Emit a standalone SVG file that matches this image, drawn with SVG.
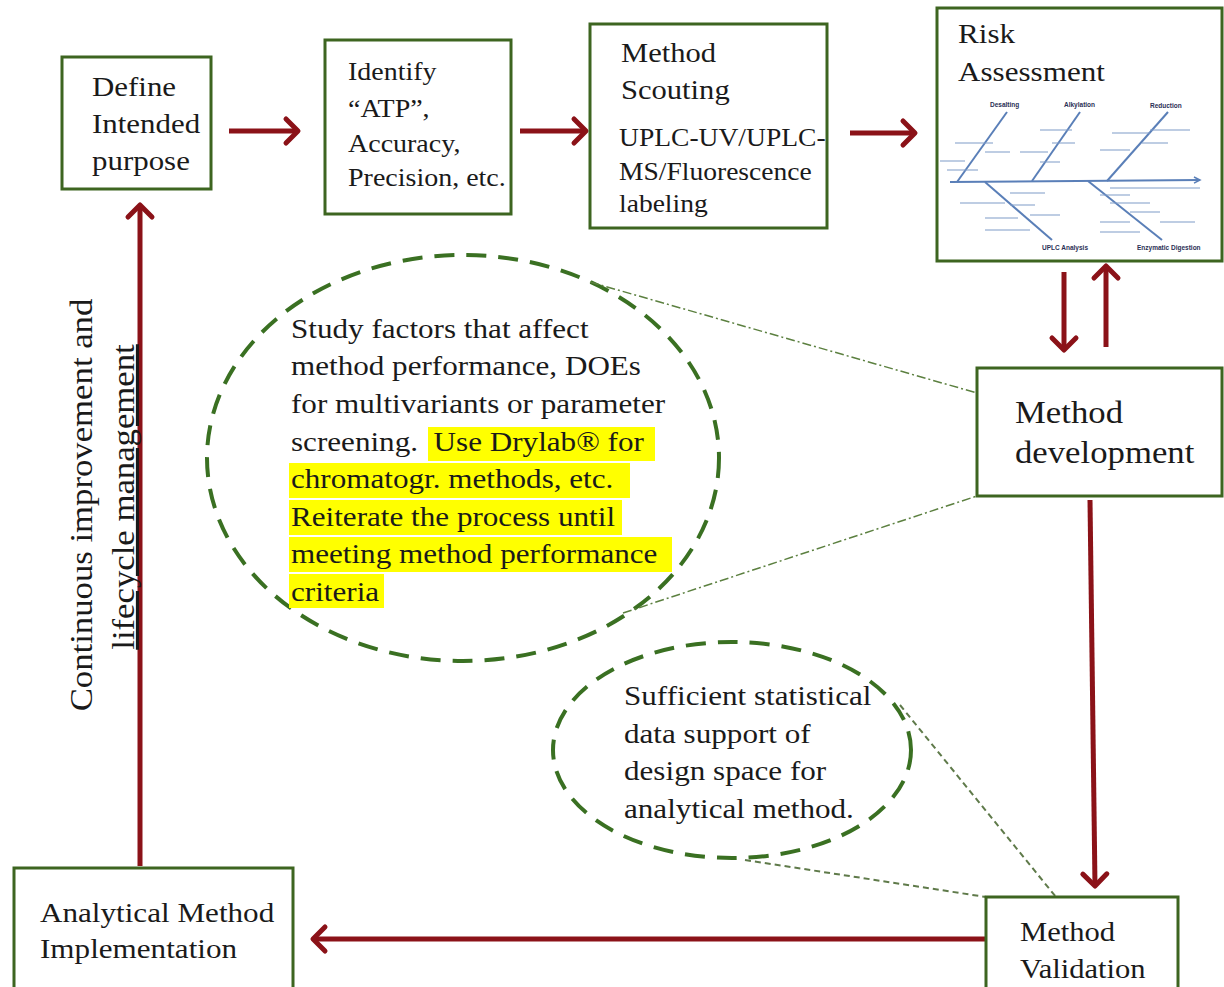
<svg xmlns="http://www.w3.org/2000/svg" width="1224" height="987" viewBox="0 0 1224 987">
<style>
.box{fill:#fff;stroke:#3d6520;stroke-width:3}
.t{font-family:"Liberation Serif","Times New Roman",serif;fill:#1a1a1a}
.arr{stroke:#8b1218;stroke-width:5;fill:none;stroke-linecap:butt;marker-end:url(#ah)}
.ell{fill:none;stroke:#3a7022;stroke-width:4;stroke-dasharray:20 12}
.call{fill:none;stroke:#5c8040;stroke-width:1.5;stroke-dasharray:9 3 2 3}
.call2{fill:none;stroke:#5f7a4a;stroke-width:2;stroke-dasharray:6 4}
.fb{stroke:#5a7fb8;stroke-width:2;fill:none}
.fs{stroke:#7f9bc8;stroke-width:1.2;fill:none}
.fh{font-family:"Liberation Sans",Arial,sans-serif;font-weight:bold;font-size:6.5px;fill:#2a2f55}
.hl{fill:#ffff00}
</style>
<defs>
<marker id="ah" viewBox="-16 -16 20 32" markerWidth="20" markerHeight="32" refX="0" refY="0" orient="auto" markerUnits="userSpaceOnUse">
<path d="M-12,-12 L0,0 L-12,12" fill="none" stroke="#8b1218" stroke-width="5" stroke-linecap="round" stroke-linejoin="round"/>
</marker>
<marker id="fah" viewBox="-8 -5 10 10" markerWidth="10" markerHeight="10" refX="0" refY="0" orient="auto" markerUnits="userSpaceOnUse">
<path d="M-6,-3 L0,0 L-6,3" fill="none" stroke="#5a7fb8" stroke-width="1.5"/>
</marker>
</defs>
<rect width="1224" height="987" fill="#fff"/>

<g id="callouts">
<ellipse class="ell" cx="463" cy="458" rx="256" ry="203"/>
<ellipse class="ell" cx="732" cy="750" rx="179" ry="108"/>
<path class="call" d="M590,282 L977,393"/>
<path class="call" d="M623,613 L977,496"/>
<path class="call2" d="M900,705 L1056,897"/>
<path class="call2" d="M745,860 L986,897"/>
</g>

<g id="connectors">
<path class="arr" d="M229,131 L298,131"/>
<path class="arr" d="M520,131 L586,131"/>
<path class="arr" d="M850,133 L915,133"/>
<path class="arr" d="M1064,272 L1064,350"/>
<path class="arr" d="M1106,347 L1106,266"/>
<path class="arr" d="M1090,500 L1095,886"/>
<path class="arr" d="M985,939 L313,939"/>
<path class="arr" d="M140,866 L140,205"/>
</g>

<g id="define">
<rect class="box" x="62" y="57" width="149" height="132"/>
<text class="t" font-size="27.6" transform="translate(92,0) scale(1.12,1)"><tspan x="0" y="96">Define</tspan><tspan x="0" y="133">Intended</tspan><tspan x="0" y="170">purpose</tspan></text>
</g>

<g id="identify">
<rect class="box" x="325" y="40" width="186" height="174"/>
<text class="t" font-size="25" transform="translate(348,0) scale(1.12,1)"><tspan x="0" y="80">Identify</tspan><tspan x="0" y="117">“ATP”,</tspan><tspan x="0" y="152">Accuracy,</tspan><tspan x="0" y="186">Precision, etc.</tspan></text>
</g>

<g id="scouting">
<rect class="box" x="590" y="24" width="237" height="204"/>
<text class="t" font-size="27.3" transform="translate(621,0) scale(1.12,1)"><tspan x="0" y="62">Method</tspan><tspan x="0" y="99">Scouting</tspan></text>
<text class="t" font-size="24.6" transform="translate(619,0) scale(1.12,1)"><tspan x="0" y="146">UPLC-UV/UPLC-</tspan><tspan x="0" y="180">MS/Fluorescence</tspan><tspan x="0" y="212">labeling</tspan></text>
</g>

<g id="risk">
<rect class="box" x="937" y="8" width="285" height="253"/>
<text class="t" font-size="27.8" transform="translate(958,0) scale(1.12,1)"><tspan x="0" y="43">Risk</tspan><tspan x="0" y="81">Assessment</tspan></text>
<g id="fishbone">
<path class="fb" d="M950,182 L1200,180" marker-end="url(#fah)"/>
<path class="fb" d="M957,182 L1007,112"/>
<path class="fb" d="M1032,181 L1080,112"/>
<path class="fb" d="M1107,181 L1168,112"/>
<path class="fb" d="M985,182 L1052,240"/>
<path class="fb" d="M1088,181 L1162,240"/>
<path class="fs" d="M947,170 L978,170 M955,143 L993,143 M985,152 L1010,152 M940,161 L965,161"/>
<path class="fs" d="M1040,130 L1072,130 M1052,143 L1075,143 M1040,162 L1060,162 M1020,152 L1048,152"/>
<path class="fs" d="M1112,133 L1150,133 M1150,130 L1190,130 M1142,143 L1168,143 M1100,150 L1130,150"/>
<path class="fs" d="M1010,193 L1045,193 M960,203 L1005,203 M1010,205 L1035,205 M985,218 L1018,218 M985,230 L1030,230 M1030,215 L1060,215"/>
<path class="fs" d="M1100,195 L1130,195 M1110,203 L1150,203 M1130,212 L1160,212 M1100,222 L1130,222 M1160,222 L1195,222 M1100,232 L1140,232 M1110,188 L1200,188"/>
<text class="fh" x="990" y="107">Desalting</text>
<text class="fh" x="1064" y="107">Alkylation</text>
<text class="fh" x="1150" y="108">Reduction</text>
<text class="fh" x="1042" y="250">UPLC Analysis</text>
<text class="fh" x="1137" y="250">Enzymatic Digestion</text>
</g>
</g>

<g id="development">
<rect class="box" x="977" y="368" width="245" height="128"/>
<text class="t" font-size="31" transform="translate(1015,0) scale(1.12,1)"><tspan x="0" y="423">Method</tspan><tspan x="0" y="463">development</tspan></text>
</g>

<g id="validation">
<rect class="box" x="986" y="897" width="192" height="100"/>
<text class="t" font-size="27.3" transform="translate(1020,0) scale(1.12,1)"><tspan x="0" y="941">Method</tspan><tspan x="0" y="978">Validation</tspan></text>
</g>

<g id="implementation">
<rect class="box" x="14" y="868" width="279" height="130"/>
<text class="t" font-size="27.8" transform="translate(40,0) scale(1.12,1)"><tspan x="0" y="922">Analytical Method</tspan><tspan x="0" y="958">Implementation</tspan></text>
</g>

<g id="study-note">
<rect class="hl" x="428" y="427" width="227" height="34"/>
<rect class="hl" x="289" y="463" width="341" height="35"/>
<rect class="hl" x="289" y="500" width="333" height="35"/>
<rect class="hl" x="289" y="537" width="383" height="35"/>
<rect class="hl" x="289" y="574" width="95" height="34"/>
<text class="t" font-size="27.8" transform="translate(291,0) scale(1.12,1)"><tspan x="0" y="338">Study factors that affect</tspan><tspan x="0" y="375">method performance, DOEs</tspan><tspan x="0" y="413">for multivariants or parameter</tspan><tspan x="0" y="451">screening. &#160;Use Drylab® for</tspan><tspan x="0" y="488">chromatogr. methods, etc.</tspan><tspan x="0" y="526">Reiterate the process until</tspan><tspan x="0" y="563">meeting method performance</tspan><tspan x="0" y="601">criteria</tspan></text>
</g>

<g id="stat-note">
<text class="t" font-size="27.8" transform="translate(624,0) scale(1.12,1)"><tspan x="0" y="705">Sufficient statistical</tspan><tspan x="0" y="743">data support of</tspan><tspan x="0" y="780">design space for</tspan><tspan x="0" y="818">analytical method.</tspan></text>
</g>

<g id="lifecycle-label">
<text class="t" font-size="31" text-anchor="middle" transform="translate(92,505) rotate(-90) scale(1.12,1)">Continuous improvement and</text>
<text class="t" font-size="31" text-anchor="middle" text-decoration="underline" transform="translate(134,497) rotate(-90) scale(1.12,1)">lifecycle management</text>
</g>
</svg>
